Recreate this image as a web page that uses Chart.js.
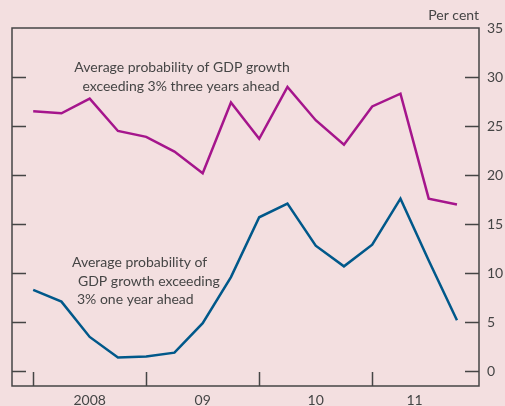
<!DOCTYPE html>
<html>
<head>
<meta charset="utf-8">
<script src="https://cdn.jsdelivr.net/npm/chart.js@4"></script>
<style>
  html, body { margin: 0; padding: 0; background: #f3dfe0; }
  #wrap { width: 505px; height: 406px; }
</style>
</head>
<body>
<div id="wrap"><canvas id="gdpChart" width="505" height="406"></canvas></div>
<script>
// quarterly survey, 2008 Q1 .. 2011 Q4
const quarters = [0, 1, 2, 3, 4, 5, 6, 7, 8, 9, 10, 11, 12, 13, 14, 15];
const threeYearsAhead = [26.5, 26.3, 27.8, 24.5, 23.9, 22.4, 20.2, 27.4, 23.7, 29.0, 25.6, 23.1, 27.0, 28.3, 17.6, 17.0];
const oneYearAhead = [8.3, 7.1, 3.5, 1.4, 1.5, 1.9, 4.9, 9.6, 15.7, 17.1, 12.8, 10.7, 12.9, 17.6, 11.3, 5.2];
const yearLabels = ["2008", "09", "10", "11"];
const yearLabelPos = [2, 6, 10, 13.5];
const yearTickPos = [0, 4, 8, 12];
const yTicks = [0, 5, 10, 15, 20, 25, 30, 35];

const INK = "#454545";
const FONT = "Lato";

const pts = (vals) => vals.map((v, i) => ({ x: quarters[i], y: v }));

// frame, inner tick marks and the text annotations
const decorPlugin = {
  id: "decor",
  beforeDraw(chart) {
    const c = chart.ctx;
    c.save();
    c.fillStyle = "#f3dfe0";
    c.fillRect(0, 0, chart.width, chart.height);
    c.restore();
  },
  afterDatasetsDraw(chart) {
    const c = chart.ctx;
    const { left, right, top, bottom } = chart.chartArea;
    const xs = chart.scales.x, ys = chart.scales.y;
    c.save();
    c.strokeStyle = INK;
    c.lineWidth = 1.5;
    c.strokeRect(left, top, right - left, bottom - top);
    c.beginPath();
    yTicks.forEach(v => {
      if (v === 35) return;
      const y = Math.round(ys.getPixelForValue(v)) + 0.5;
      c.moveTo(left, y); c.lineTo(left + 14, y);
      c.moveTo(right - 14, y); c.lineTo(right, y);
    });
    yearTickPos.forEach(q => {
      const x = Math.round(xs.getPixelForValue(q)) + 0.5;
      c.moveTo(x, bottom); c.lineTo(x, bottom - 14);
    });
    c.stroke();

    c.fillStyle = INK;
    c.font = "14px '" + FONT + "'";
    c.textBaseline = "middle";
    c.textAlign = "right";
    c.fillText("Per cent", right, 15);

    c.textAlign = "center";
    c.fillText("Average probability of GDP growth", 182, 67);
    c.fillText("exceeding 3% three years ahead", 181, 86);

    c.textAlign = "left";
    c.fillText("Average probability of", 72, 262);
    c.fillText("GDP growth exceeding", 78, 281);
    c.fillText("3% one year ahead", 77, 299);
    c.restore();
  }
};

new Chart(document.getElementById("gdpChart"), {
  type: "line",
  data: {
    datasets: [
      { label: "Three years ahead", data: pts(threeYearsAhead), borderColor: "#a5158c", borderWidth: 2.5 },
      { label: "One year ahead", data: pts(oneYearAhead), borderColor: "#00588a", borderWidth: 2.5 }
    ]
  },
  options: {
    responsive: false,
    animation: false,
    layout: { padding: { top: 28, left: 12, right: 0, bottom: 0 } },
    elements: { point: { radius: 0 }, line: { tension: 0 } },
    plugins: { legend: { display: false }, tooltip: { enabled: false } },
    scales: {
      x: {
        type: "linear",
        min: -0.75,
        max: 15.78,
        grid: { display: false, drawTicks: false },
        border: { display: false },
        afterBuildTicks: (s) => { s.ticks = yearLabelPos.map(v => ({ value: v })); },
        afterFit: (s) => { s.height = 20; },
        ticks: {
          autoSkip: false,
          maxRotation: 0,
          padding: 6,
          color: INK,
          font: { family: FONT, size: 14 },
          callback: (v) => yearLabels[yearLabelPos.indexOf(v)]
        }
      },
      y: {
        position: "right",
        min: -1.5,
        max: 35,
        grid: { display: false, drawTicks: false },
        border: { display: false },
        afterBuildTicks: (s) => { s.ticks = yTicks.map(v => ({ value: v })); },
        afterFit: (s) => { s.width = 26; },
        ticks: {
          padding: 8,
          color: INK,
          font: { family: FONT, size: 14 }
        }
      }
    }
  },
  plugins: [decorPlugin]
});
</script>
</body>
</html>
